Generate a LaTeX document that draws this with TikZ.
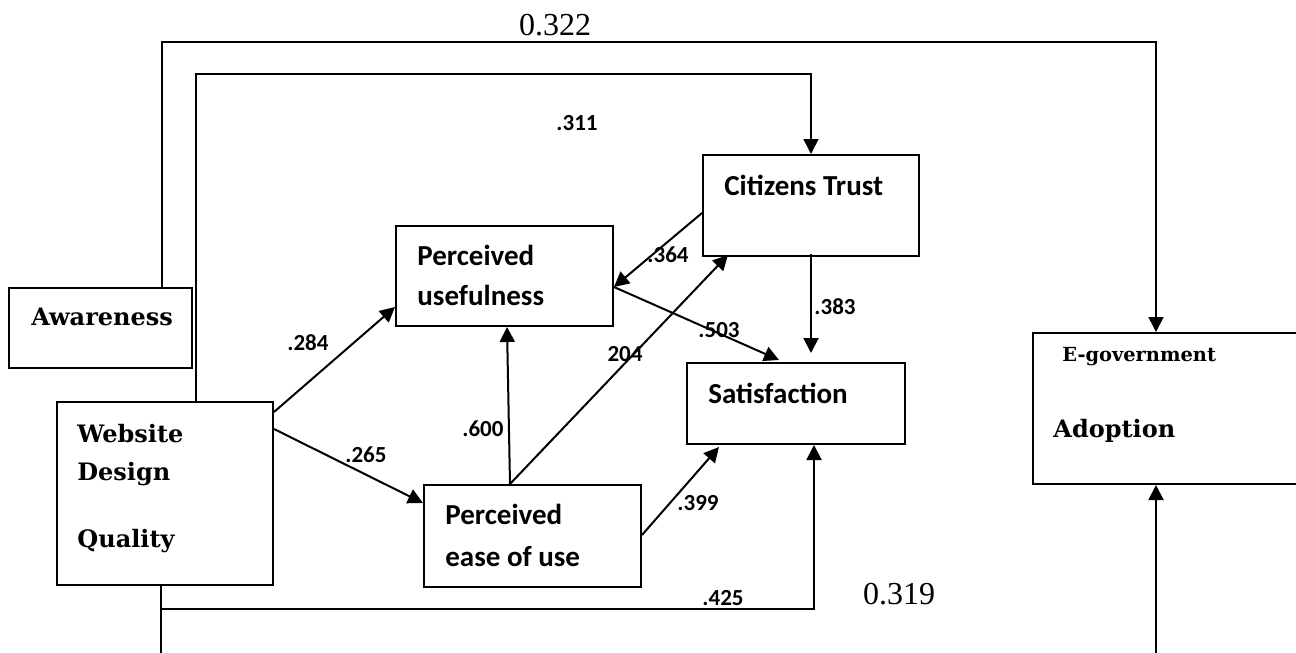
\documentclass[tikz,border=0pt]{standalone}
\usepackage{fontspec}
\newfontfamily\calfont{Carlito}
\newfontfamily\serfont{Liberation Serif}
\newfontfamily\slabfont{DejaVu Serif}
\usetikzlibrary{arrows.meta,calc}

\begin{document}
\begin{tikzpicture}[x=0.5pt, y=-0.5pt,
	box/.style={draw, line width=1pt, inner sep=0pt, anchor=north west},
	lbl/.style={anchor=base west, inner sep=0pt, font=\calfont\bfseries\fontsize{14.5}{17}\selectfont},
	lm/.style={anchor=base west, inner sep=0pt, font=\slabfont\bfseries\fontsize{12}{14}\selectfont},
	coef/.style={inner sep=0pt, font=\calfont\bfseries\fontsize{11.5}{14}\selectfont},
	big/.style={inner sep=0pt, font=\serfont\fontsize{16}{19}\selectfont},
	link/.style={line width=1pt, -{Triangle[length=7.5pt,width=7.5pt]}},
	thinlink/.style={link, line width=0.8pt}]
	\useasboundingbox (0,0) rectangle (1296,653);
	\clip (0,0) rectangle (1296,653);

	\node[box, minimum width=91.5pt, minimum height=40pt] (aware) at (8,287) {};
	\node[lm] (aware-t) at (31,325) {Awareness};
	\node[box, minimum width=108pt, minimum height=91.5pt] (web) at (56,401) {};
	\node[lm] (web-t1) at (77,442) {Website};
	\node[lm] (web-t2) at (77,480) {Design};
	\node[lm] (web-t3) at (77,547) {Quality};
	\node[box, minimum width=108.5pt, minimum height=50pt] (pu) at (395,225) {};
	\node[lbl] (pu-t1) at (417,265) {Perceived};
	\node[lbl] (pu-t2) at (417,305) {usefulness};
	\node[box, minimum width=108.5pt, minimum height=51pt] (peou) at (423,484) {};
	\node[lbl] (peou-t1) at (445,524) {Perceived};
	\node[lbl] (peou-t2) at (445,566) {ease of use};
	\node[box, minimum width=108pt, minimum height=50.5pt] (trust) at (702,154) {};
	\node[lbl] (trust-t) at (724,195) {Citizens Trust};
	\node[box, minimum width=109pt, minimum height=40.5pt] (sat) at (686,362) {};
	\node[lbl] (sat-t) at (708,403) {Satisfaction};
	\node[box, minimum width=150pt, minimum height=75.5pt] (adopt) at (1032,332) {};
	\node[lm, font=\slabfont\bfseries\fontsize{9.7}{12}\selectfont] (adopt-t1) at (1062,361) {E-government};
	\node[lm] (adopt-t2) at (1053,437) {Adoption};

	\coordinate (awTop) at (162,42);
	\coordinate (adTop) at (1156,42);
	\coordinate (wbTop) at (196,74);
	\coordinate (trTop) at (811,74);
	\coordinate (wBot) at (161,670);
	\coordinate (aBot) at (1156,670);
	\coordinate (wsBot) at (161,609);
	\coordinate (saBot) at (814,609);

	\draw[thinlink] (aware.north -| awTop) -- (awTop) -- (adTop) -- (adopt.north -| adTop);
	\draw[thinlink] (web.north -| wbTop) -- (wbTop) -- (trTop) -- (trust.north -| trTop);
	\draw[link] (web.south -| wBot) -- (wBot) -- (aBot) -- (adopt.south -| aBot);
	\draw[link] (wsBot) -- (saBot) -- (sat.south -| saBot);

	\draw[link] ($(web.north east)+(0,11)$) -- ($(pu.south west)+(0,-20)$);
	\draw[link] ($(web.north east)+(0,28)$) -- ($(peou.north west)+(0,19)$);
	\draw[link] ($(peou.north west)+(87,0)$) -- ($(pu.south west)+(112,0)$);
	\draw[link] ($(peou.north west)+(87,0)$) -- ($(trust.south west)+(26,-2)$);
	\draw[link] ($(trust.north west)+(0,59)$) -- ($(pu.north east)+(0,62)$);
	\draw[link] ($(pu.north east)+(0,62)$) -- ($(sat.north west)+(93,-2)$);
	\draw[link] ($(trust.south west)+(109,-3)$) -- ($(sat.north west)+(125,-9)$);
	\draw[link] ($(peou.south east)+(0,-53)$) -- ($(sat.south west)+(33,2)$);

	\node[big] (c322) at (555,25) {0.322};
	\node[coef] (c311) at (577,123) {.311};
	\node[coef] (c284) at (308,343) {.284};
	\node[coef] (c265) at (366,455) {.265};
	\node[coef] (c600) at (483,429) {.600};
	\node[coef] (c204) at (625,354) {204};
	\node[coef] (c364) at (668,255) {.364};
	\node[coef] (c383) at (835,307) {.383};
	\node[coef] (c503) at (719,330) {.503};
	\node[coef] (c399) at (698,503) {.399};
	\node[coef] (c425) at (723,598) {.425};
	\node[big] (c319) at (899,594) {0.319};
\end{tikzpicture}
\end{document}
